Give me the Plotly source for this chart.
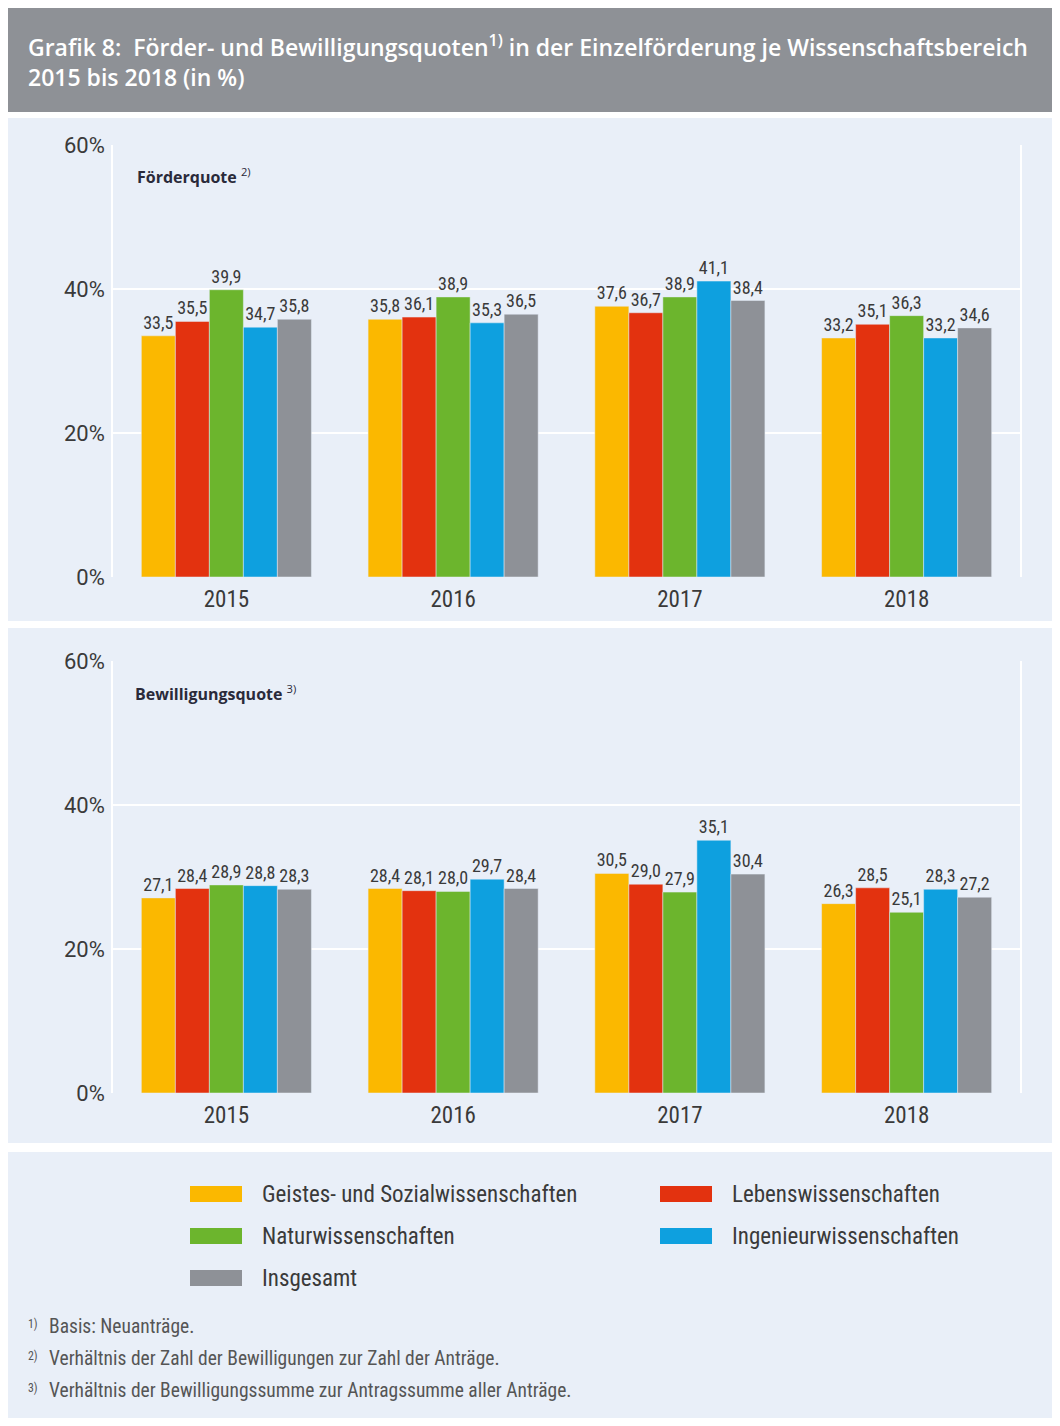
import plotly.graph_objects as go

years = ["2015", "2016", "2017", "2018"]
series = ["Geistes- und Sozialwissenschaften", "Lebenswissenschaften",
          "Naturwissenschaften", "Ingenieurwissenschaften", "Insgesamt"]
colors = ["#fbb800", "#e3320f", "#6cb52d", "#0ea0df", "#8e9197"]

foerder_gs = [33.5, 35.8, 37.6, 33.2]
foerder_lw = [35.5, 36.1, 36.7, 35.1]
foerder_nw = [39.9, 38.9, 38.9, 36.3]
foerder_iw = [34.7, 35.3, 41.1, 33.2]
foerder_ins = [35.8, 36.5, 38.4, 34.6]

bewill_gs = [27.1, 28.4, 30.5, 26.3]
bewill_lw = [28.4, 28.1, 29.0, 28.5]
bewill_nw = [28.9, 28.0, 27.9, 25.1]
bewill_iw = [28.8, 29.7, 35.1, 28.3]
bewill_ins = [28.3, 28.4, 30.4, 27.2]

y_ticks = [0, 20, 40, 60]
y_ticklabels = ["0%", "20%", "40%", "60%"]

title_text = ("Grafik 8:  Förder- und Bewilligungsquoten<sup>1)</sup> in der Einzelförderung je Wissenschaftsbereich"
              "<br>2015 bis 2018 (in %)")
footnotes = [("1)", "Basis: Neuanträge."),
             ("2)", "Verhältnis der Zahl der Bewilligungen zur Zahl der Anträge."),
             ("3)", "Verhältnis der Bewilligungssumme zur Antragssumme aller Anträge.")]

W, H = 1044, 1410
OFF = 8
PANEL = "#e9eff8"
FONT = "Roboto Condensed, Liberation Sans Narrow, Roboto, sans-serif"
TFONT = "Open Sans, Noto Sans, sans-serif"
TXT = "#3a3a3a"

def py(p):
    return 1 - (p - OFF) / H

def px(p):
    return (p - OFF) / W

fig = go.Figure()

def fmt(v):
    return f"{v:.1f}".replace(".", ",")

top = [foerder_gs, foerder_lw, foerder_nw, foerder_iw, foerder_ins]
bot = [bewill_gs, bewill_lw, bewill_nw, bewill_iw, bewill_ins]
for i, name in enumerate(series):
    fig.add_trace(go.Bar(x=years, y=top[i], name=name, marker_color=colors[i],
                         text=[fmt(v) for v in top[i]], textposition="outside",
                         textfont=dict(size=18, color=TXT, family=FONT),
                         cliponaxis=False, showlegend=False, xaxis="x", yaxis="y"))
for i, name in enumerate(series):
    fig.add_trace(go.Bar(x=years, y=bot[i], name=name, marker_color=colors[i],
                         text=[fmt(v) for v in bot[i]], textposition="outside",
                         textfont=dict(size=18, color=TXT, family=FONT),
                         cliponaxis=False, showlegend=False, xaxis="x2", yaxis="y2"))

xdom = [px(113), px(1020)]
axis_common_x = dict(showgrid=False, showline=False, ticks="", ticklabelstandoff=6,
                     tickfont=dict(size=23, color=TXT, family=FONT))
axis_common_y = dict(range=[0, 60], tickvals=y_ticks, ticktext=y_ticklabels, showgrid=True,
                     gridcolor="#ffffff", gridwidth=1.5, zeroline=False, showline=True, mirror=True,
                     linecolor="#ffffff", linewidth=1.5, ticks="",
                     tickfont=dict(size=22, color=TXT, family="Roboto, sans-serif"),
                     ticklabelstandoff=2)

fig.update_layout(
    width=W, height=H, margin=dict(l=0, r=0, t=0, b=0, autoexpand=False),
    paper_bgcolor="#ffffff", plot_bgcolor=PANEL,
    barmode="group", bargap=0.25, bargroupgap=0,
    xaxis=dict(domain=xdom, anchor="y", **axis_common_x),
    yaxis=dict(domain=[py(577), py(145)], anchor="x", **axis_common_y),
    xaxis2=dict(domain=xdom, anchor="y2", **axis_common_x),
    yaxis2=dict(domain=[py(1093), py(661)], anchor="x2", **axis_common_y),
    font=dict(family=FONT, color=TXT),
)

shapes = []
shapes.append(dict(type="rect", xref="paper", yref="paper", x0=0, x1=1.02, y0=py(112), y1=py(8),
                   fillcolor="#8e9196", line=dict(width=0), layer="below"))
for (a, b) in [(118, 621), (628, 1143), (1152, 1440)]:
    shapes.append(dict(type="rect", xref="paper", yref="paper", x0=0, x1=1.02, y0=py(b), y1=py(a),
                       fillcolor=PANEL, line=dict(width=0), layer="below"))

annotations = []
annotations.append(dict(text=title_text, xref="paper", yref="paper", x=px(26), y=py(27),
                        xanchor="left", yanchor="top", align="left", showarrow=False,
                        font=dict(size=23, color="#ffffff", family=TFONT, weight=600)))
annotations.append(dict(text="<b>Förderquote</b> <sup>2)</sup>", xref="paper", yref="paper",
                        x=px(135), y=py(176), xanchor="left", yanchor="middle", showarrow=False,
                        font=dict(size=16, color="#2a2a3a", family=TFONT)))
annotations.append(dict(text="<b>Bewilligungsquote</b> <sup>3)</sup>", xref="paper", yref="paper",
                        x=px(133), y=py(693), xanchor="left", yanchor="middle", showarrow=False,
                        font=dict(size=16, color="#2a2a3a", family=TFONT)))

leg_pos = [(190, 1194), (660, 1194), (190, 1236), (660, 1236), (190, 1278)]
for i, name in enumerate(series):
    x0, yc = leg_pos[i]
    shapes.append(dict(type="rect", xref="paper", yref="paper", x0=px(x0), x1=px(x0 + 52),
                       y0=py(yc + 8), y1=py(yc - 8), fillcolor=colors[i], line=dict(width=0)))
    annotations.append(dict(text=name, xref="paper", yref="paper", x=px(x0 + 70), y=py(yc),
                            xanchor="left", yanchor="middle", showarrow=False,
                            font=dict(size=23, color=TXT, family=FONT)))

for i, (mark, txt) in enumerate(footnotes):
    yc = 1326 + 32 * i
    annotations.append(dict(text=f"<sup>{mark}</sup>", xref="paper", yref="paper", x=px(26), y=py(yc - 2),
                            xanchor="left", yanchor="middle", showarrow=False,
                            font=dict(size=17, color="#555555", family=FONT)))
    annotations.append(dict(text=txt, xref="paper", yref="paper", x=px(47), y=py(yc),
                            xanchor="left", yanchor="middle", showarrow=False,
                            font=dict(size=19.5, color="#555555", family=FONT)))

fig.update_layout(shapes=shapes, annotations=annotations)
fig.write_html("out.html")
